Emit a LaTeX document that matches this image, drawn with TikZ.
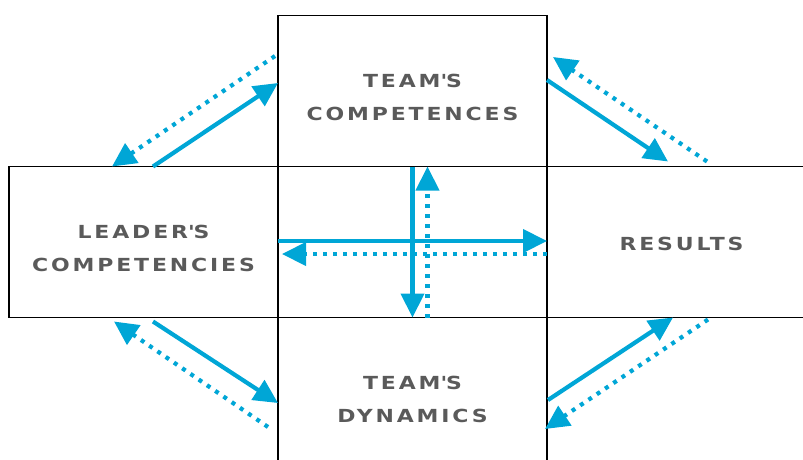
\documentclass[tikz,border=0pt]{standalone}
\usepackage{fontspec}
\setmainfont{DejaVu Sans}[FakeStretch=1.22, LetterSpace=16]
\usepackage{xcolor}
\usetikzlibrary{positioning, arrows.meta}
\definecolor{flowblue}{HTML}{00A6D6}
\definecolor{labelgrey}{HTML}{5A5A5A}
\tikzstyle{box} = [draw, line width=1.8pt, minimum width=269pt, minimum height=151pt, inner sep=0pt, outer sep=0pt]
\tikzstyle{caption} = [align=center, text=labelgrey, font=\fontsize{18}{33}\bfseries]
\tikzstyle{solidarrow} = [flowblue, line width=4.2pt, -{Triangle[length=24pt,width=23pt]}]
\tikzstyle{dotarrow} = [flowblue, line width=4.2pt, dash pattern=on 4pt off 6pt, -{Triangle[length=24pt,width=23pt]}]

\begin{document}
\begin{tikzpicture}[x=1pt, y=-1pt, node distance=0pt]
		\useasboundingbox (0,0) rectangle (803,459);
		\clip (0,0) rectangle (803,459);

		\node (mid) [box] at (412.5,242) {};
		\node (team) [box, above=of mid] {};
		\node (lead) [box, left=of mid] {};
		\node (res) [box, right=of mid] {};
		\node (dyn) [box, below=of mid] {};

		\node (teamtext) [caption] at ([yshift=-6pt]team.center) {TEAM\textquotesingle S\\COMPETENCES};
		\node (leadtext) [caption] at ([yshift=-6pt]lead.center) {LEADER\textquotesingle S\\COMPETENCIES};
		\node (restext) [caption] at ([yshift=-2pt]res.center) {RESULTS};
		\node (dyntext) [caption] at ([yshift=-6pt]dyn.center) {TEAM\textquotesingle S\\DYNAMICS};

		\draw [solidarrow] ([xshift=-125pt]lead.north east) -- ([yshift=8pt]team.west);
		\draw [dotarrow] ([xshift=-3pt, yshift=35pt]team.west) -- ([xshift=-166pt]lead.north east);
		\draw [solidarrow] ([yshift=11pt]team.east) -- ([xshift=121pt, yshift=5pt]res.north west);
		\draw [dotarrow] ([xshift=160pt, yshift=5pt]res.north west) -- ([xshift=6pt, yshift=34pt]team.east);
		\draw [solidarrow] ([xshift=-125pt, yshift=-4pt]lead.south east) -- ([yshift=-10pt]dyn.west);
		\draw [dotarrow] ([xshift=-10pt, yshift=-34pt]dyn.west) -- ([xshift=-164pt, yshift=-4pt]lead.south east);
		\draw [solidarrow] ([xshift=1pt, yshift=-7pt]dyn.east) -- ([xshift=126pt]res.south west);
		\draw [dotarrow] ([xshift=161pt, yshift=-2pt]res.south west) -- ([xshift=-2pt, yshift=-36pt]dyn.east);

		\draw [solidarrow] (mid.north) -- (mid.south);
		\draw [dotarrow] ([xshift=15pt]mid.south) -- ([xshift=15pt]mid.north);
		\draw [solidarrow] ([yshift=1pt]mid.west) -- ([yshift=1pt]mid.east);
		\draw [dotarrow] ([yshift=-12pt]mid.east) -- ([xshift=4pt, yshift=-12pt]mid.west);
	\end{tikzpicture}
\end{document}
